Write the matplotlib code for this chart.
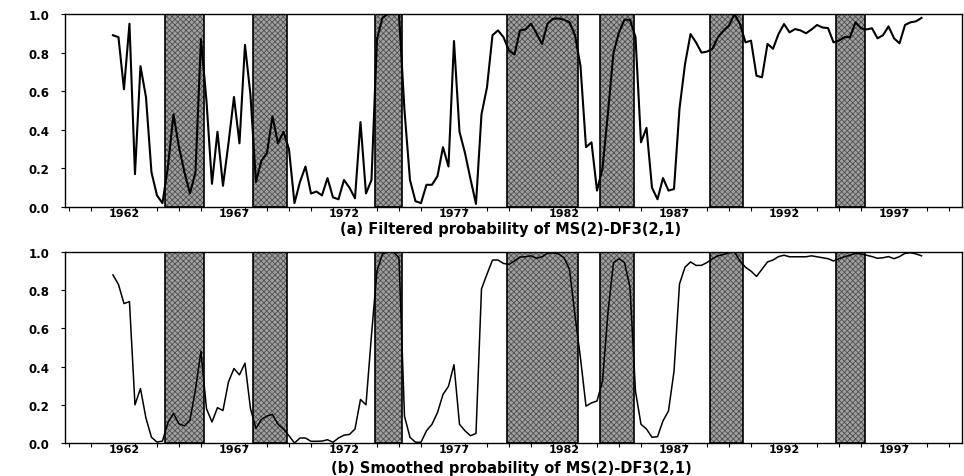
import numpy as np
import matplotlib
matplotlib.use("Agg")
import matplotlib.pyplot as plt
from matplotlib.ticker import MultipleLocator, FixedLocator, FormatStrFormatter

plt.rcParams['font.family'] = ['DejaVu Sans']
plt.rcParams['font.weight'] = 'bold'
plt.rcParams['hatch.linewidth'] = 0.6

# quarterly, 1961Q3 .. 1998Q2
start_year = 1961.5

filtered = [
    0.89, 0.88, 0.61, 0.95, 0.17, 0.73, 0.57, 0.18, 0.06, 0.02,   # 1961.50-1963.75
    0.21, 0.48, 0.31, 0.18, 0.07, 0.18, 0.87, 0.55,               # 1964-1965
    0.12, 0.39, 0.11, 0.33, 0.57, 0.33, 0.84, 0.58,               # 1966-1967
    0.13, 0.24, 0.28, 0.47, 0.33, 0.39, 0.30, 0.02,               # 1968-1969
    0.13, 0.21, 0.07, 0.08, 0.06, 0.15, 0.05, 0.04,               # 1970-1971
    0.14, 0.10, 0.045, 0.44, 0.07, 0.14, 0.87, 0.98,              # 1972-1973
    1.0, 1.0, 1.0, 0.50, 0.14, 0.03, 0.02, 0.115,                 # 1974-1975
    0.115, 0.16, 0.31, 0.21, 0.86, 0.39, 0.28, 0.145,             # 1976-1977
    0.016, 0.48, 0.62, 0.89, 0.915, 0.88, 0.81, 0.79,             # 1978-1979
    0.915, 0.92, 0.95, 0.90, 0.845, 0.95, 0.975, 0.977,           # 1980-1981
    0.97, 0.957, 0.89, 0.73, 0.31, 0.335, 0.085, 0.20,            # 1982-1983
    0.49, 0.80, 0.905, 0.97, 0.97, 0.88, 0.335, 0.41,             # 1984-1985
    0.10, 0.04, 0.15, 0.085, 0.093, 0.51, 0.74, 0.896,            # 1986-1987
    0.853, 0.80, 0.805, 0.82, 0.88, 0.914, 0.94, 1.0,             # 1988-1989
    0.948, 0.853, 0.862, 0.68, 0.672, 0.845, 0.82, 0.896,         # 1990-1991
    0.948, 0.905, 0.922, 0.915, 0.90, 0.92, 0.943, 0.93,          # 1992-1993
    0.927, 0.853, 0.862, 0.88, 0.88, 0.957, 0.926, 0.92,          # 1994-1995
    0.926, 0.874, 0.89, 0.936, 0.874, 0.848, 0.943, 0.957,        # 1996-1997
    0.962, 0.98,                                                  # 1998
]

smoothed = [
    0.88, 0.83, 0.73, 0.74, 0.20, 0.285, 0.13, 0.03, 0.005, 0.01,  # 1961.50-1963.75
    0.107, 0.155, 0.10, 0.09, 0.12, 0.28, 0.48, 0.18,             # 1964-1965
    0.11, 0.185, 0.17, 0.32, 0.39, 0.357, 0.418, 0.18,            # 1966-1967
    0.076, 0.124, 0.141, 0.15, 0.098, 0.073, 0.038, 0.0,          # 1968-1969
    0.026, 0.026, 0.009, 0.009, 0.01, 0.017, 0.004, 0.026,        # 1970-1971
    0.041, 0.045, 0.073, 0.228, 0.20, 0.565, 0.90, 0.99,          # 1972-1973
    1.0, 1.0, 0.97, 0.14, 0.03, 0.004, 0.004, 0.064,              # 1974-1975
    0.098, 0.159, 0.254, 0.297, 0.41, 0.098, 0.064, 0.038,        # 1976-1977
    0.05, 0.807, 0.884, 0.958, 0.958, 0.94, 0.935, 0.953,         # 1978-1979
    0.974, 0.975, 0.98, 0.967, 0.975, 0.993, 0.996, 0.99,         # 1980-1981
    0.97, 0.91, 0.668, 0.444, 0.193, 0.21, 0.22, 0.323,           # 1982-1983
    0.685, 0.945, 0.965, 0.945, 0.815, 0.27, 0.098, 0.073,        # 1984-1985
    0.03, 0.033, 0.116, 0.168, 0.375, 0.833, 0.92, 0.948,         # 1986-1987
    0.93, 0.93, 0.945, 0.965, 0.98, 0.987, 0.996, 1.0,            # 1988-1989
    0.953, 0.92, 0.90, 0.872, 0.91, 0.948, 0.958, 0.976,          # 1990-1991
    0.983, 0.975, 0.975, 0.975, 0.975, 0.98, 0.975, 0.97,         # 1992-1993
    0.965, 0.953, 0.965, 0.975, 0.983, 0.993, 0.99, 0.983,        # 1994-1995
    0.976, 0.967, 0.97, 0.976, 0.965, 0.976, 0.993, 0.996,        # 1996-1997
    0.99, 0.98,                                                   # 1998
]

# shaded periods (start, end)
band_start = [1963.86, 1967.88, 1973.40, 1979.40, 1983.64, 1988.64, 1994.38]
band_end = [1965.65, 1969.40, 1974.62, 1982.65, 1985.18, 1990.15, 1995.66]

tick_years = [1962, 1967, 1972, 1977, 1982, 1987, 1992, 1997]
titles = ['(a) Filtered probability of MS(2)-DF3(2,1)',
          '(b) Smoothed probability of MS(2)-DF3(2,1)']

fig = plt.figure(figsize=(9.64, 4.77), dpi=100)
W, H = 964, 477
left, right = 65 / W, 962 / W
ax_a = fig.add_axes([left, 1 - 208 / H, right - left, 193 / H])
ax_b = fig.add_axes([left, 1 - 444 / H, right - left, 191 / H])

series = [filtered, smoothed]
line_w = [1.5, 1.1]
title_bottom = [1 - 237 / H, 1 - 476 / H]

for ax, vals, lw, ttl, ty in zip([ax_a, ax_b], series, line_w, titles, title_bottom):
    years = start_year + 0.25 * np.arange(len(vals))
    for s, e in zip(band_start, band_end):
        ax.axvspan(s, e, facecolor='#a0a0a0', edgecolor='#505050',
                   hatch='xxxxxx', linewidth=0, zorder=1)
        ax.axvspan(s, e, fill=False, edgecolor='black', linewidth=1.2, zorder=2)
    ax.plot(years, vals, color='black', lw=lw, zorder=3)

    ax.set_xlim(1959.32, 2000.09)
    ax.set_ylim(0, 1)
    ax.xaxis.set_major_locator(FixedLocator(tick_years))
    ax.xaxis.set_minor_locator(FixedLocator(np.arange(1959.5, 2000, 1.0)))
    ax.tick_params(axis='x', which='major', length=0, pad=1, labelsize=8)
    ax.tick_params(axis='x', which='minor', length=3, direction='out', width=0.8)
    ax.yaxis.set_major_locator(MultipleLocator(0.2))
    ax.yaxis.set_major_formatter(FormatStrFormatter('%.1f'))
    ax.tick_params(axis='y', length=3, direction='out', width=0.8, labelsize=8.5, pad=8)
    for lab in ax.get_xticklabels() + ax.get_yticklabels():
        lab.set_fontweight('bold')
    for sp in ax.spines.values():
        sp.set_linewidth(1.0)
    fig.text(0.53, ty, ttl, ha='center', va='bottom', fontsize=10.5, fontweight='bold')

fig.savefig('out.png', dpi=100)
